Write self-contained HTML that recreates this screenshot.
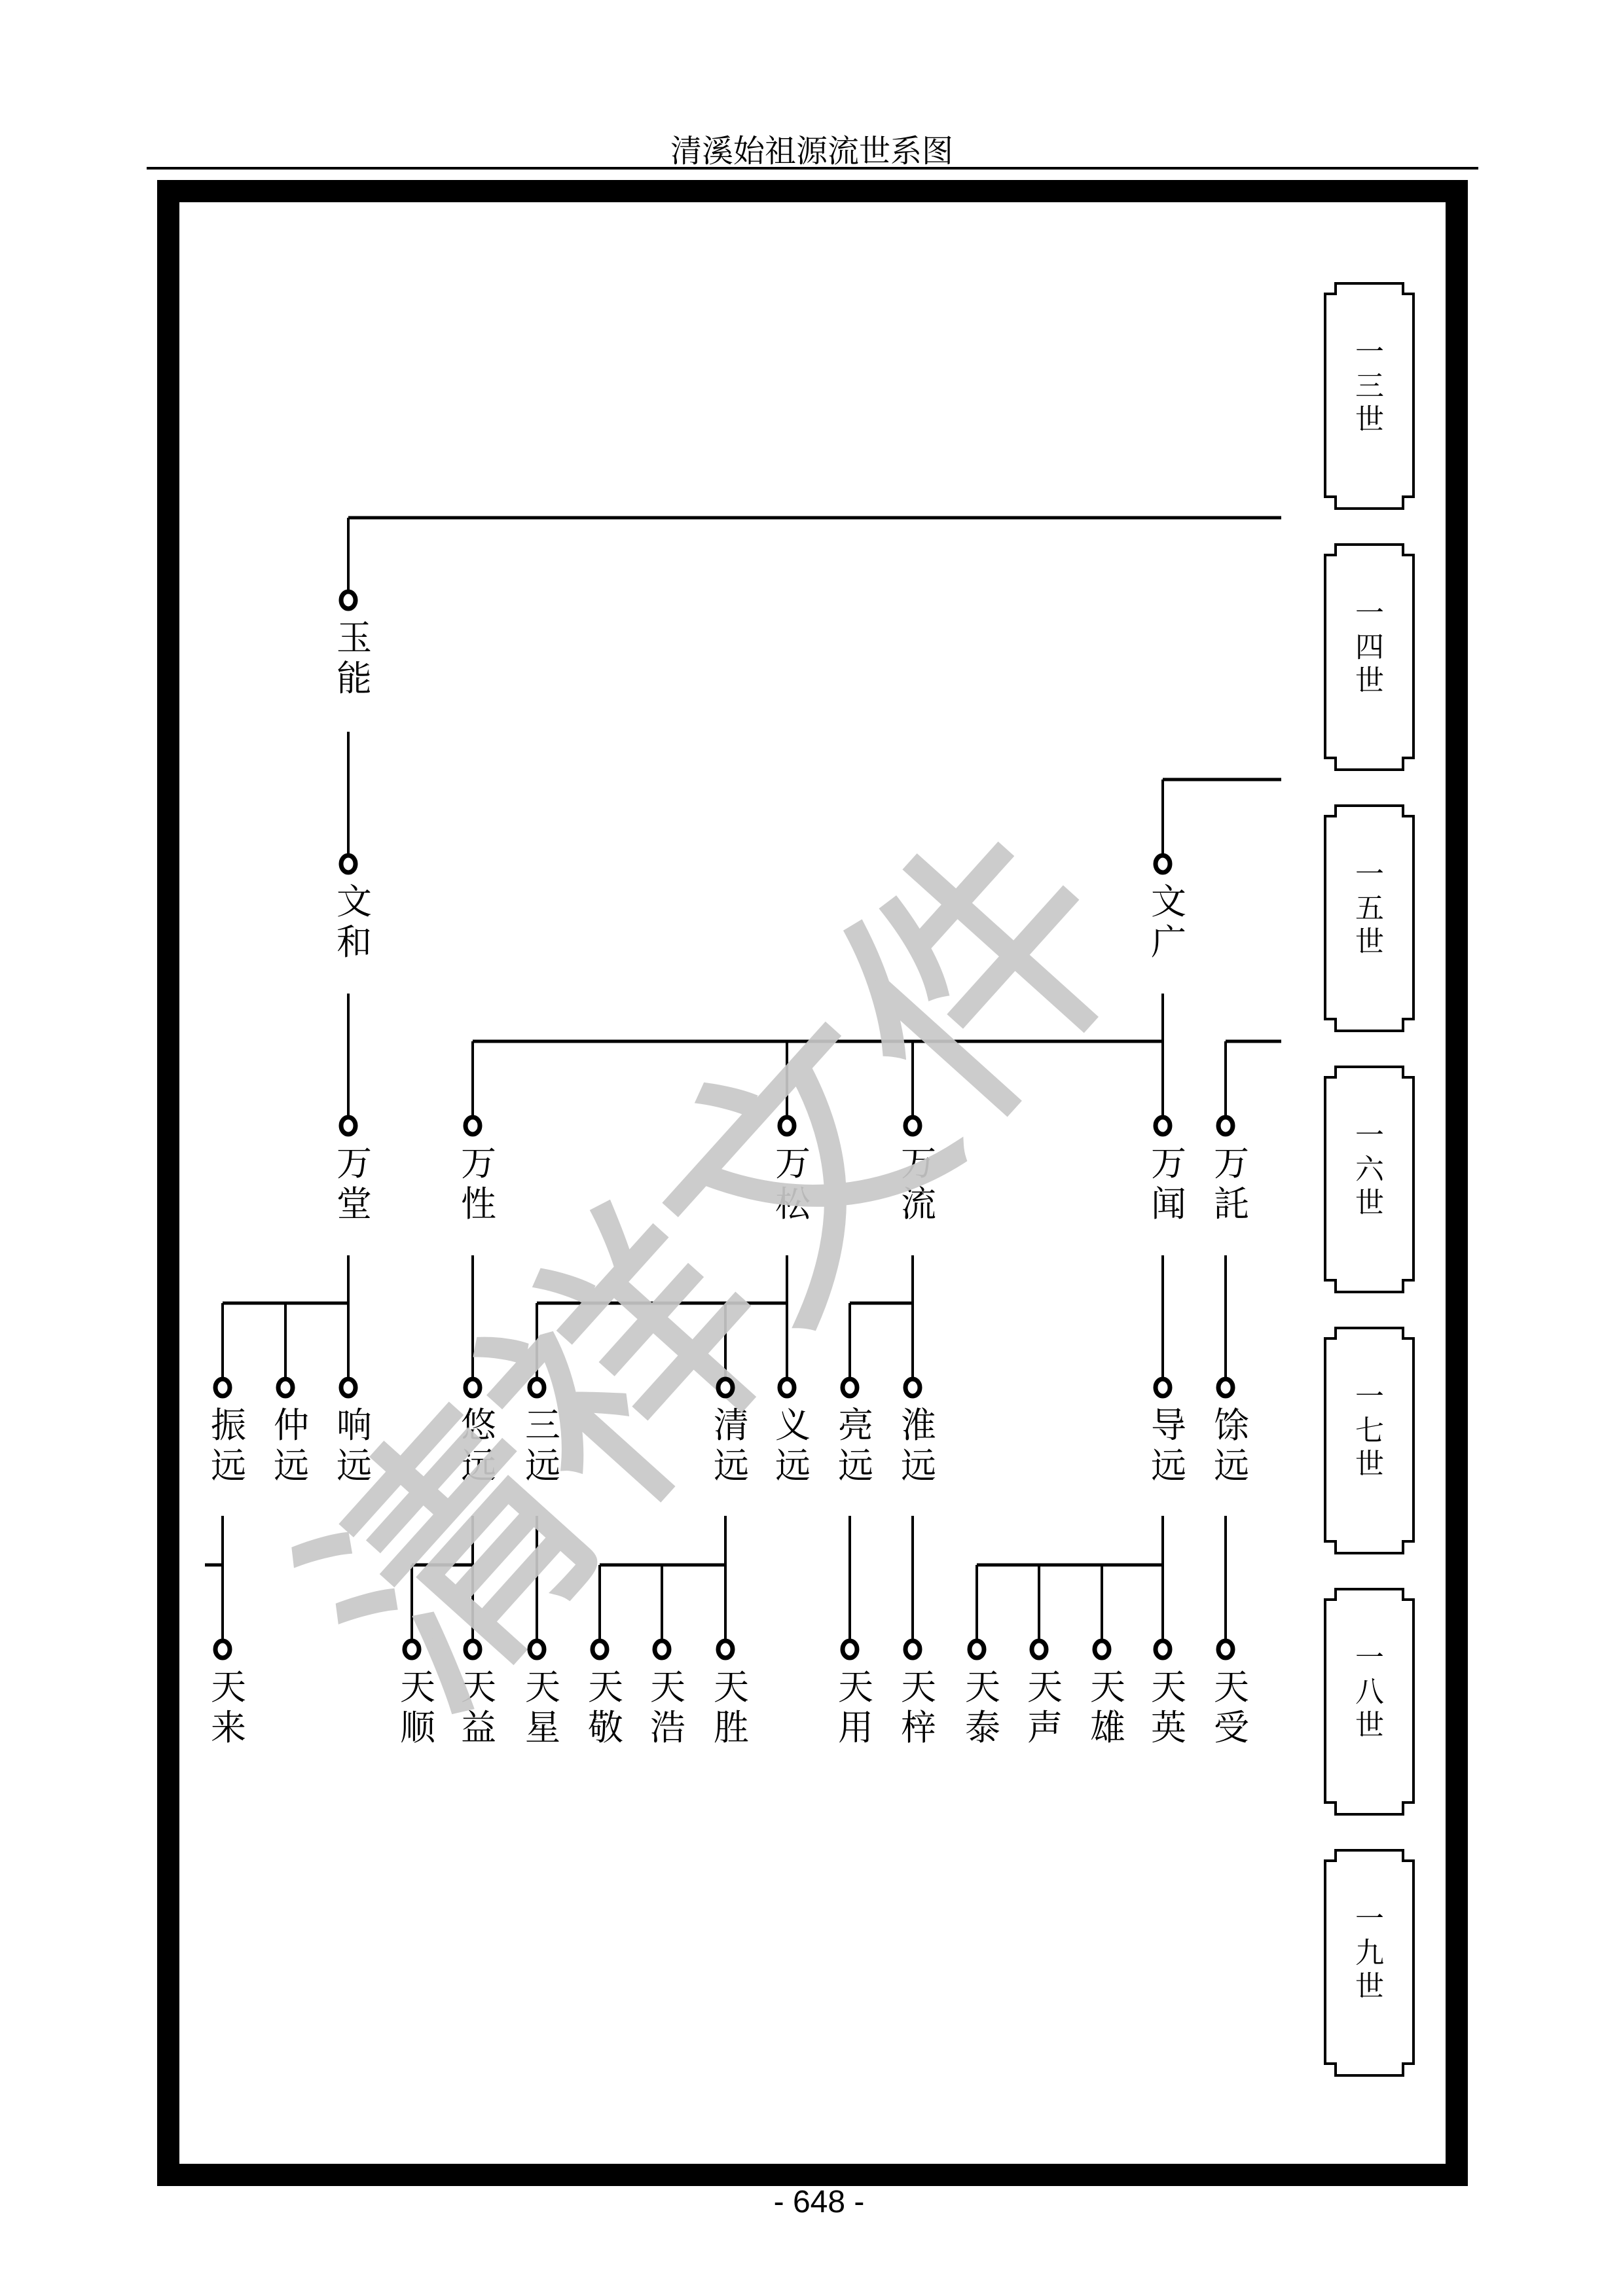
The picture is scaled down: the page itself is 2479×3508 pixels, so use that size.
<!DOCTYPE html>
<html><head><meta charset="utf-8"><style>
html,body{margin:0;padding:0;background:#fff;}
svg{display:block;}
text{font-family:"Liberation Serif","Noto Serif CJK SC",serif;}
</style></head><body>
<svg width="2479" height="3508" viewBox="0 0 2479 3508" xmlns="http://www.w3.org/2000/svg">
<rect width="2479" height="3508" fill="#fff"/>
<text x="1240" y="247" font-size="48" text-anchor="middle">清溪始祖源流世系图</text>
<rect x="224" y="255" width="2034" height="4" fill="#000"/>
<rect x="257" y="292" width="1968" height="3031" fill="none" stroke="#000" stroke-width="34"/>

<g fill="none" stroke="#000" stroke-width="4">
<path id="bx" d="M2040 433 H2143 V449 H2159 V759 H2143 V777 H2040 V759 H2024 V449 H2040 Z"/>
<use href="#bx" y="399"/><use href="#bx" y="798"/><use href="#bx" y="1197"/><use href="#bx" y="1596"/><use href="#bx" y="1995"/><use href="#bx" y="2394"/>
</g>
<g font-size="44" text-anchor="middle" dominant-baseline="central">
<text x="2092" y="538">一</text><text x="2092" y="590">三</text><text x="2092" y="641">世</text>
<text x="2092" y="937">一</text><text x="2092" y="989">四</text><text x="2092" y="1040">世</text>
<text x="2092" y="1336">一</text><text x="2092" y="1388">五</text><text x="2092" y="1439">世</text>
<text x="2092" y="1735">一</text><text x="2092" y="1787">六</text><text x="2092" y="1838">世</text>
<text x="2092" y="2134">一</text><text x="2092" y="2186">七</text><text x="2092" y="2237">世</text>
<text x="2092" y="2533">一</text><text x="2092" y="2585">八</text><text x="2092" y="2636">世</text>
<text x="2092" y="2932">一</text><text x="2092" y="2984">九</text><text x="2092" y="3035">世</text>
</g>

<g stroke="#000" stroke-width="4" fill="none">
<path d="M532 917 V791"/>
<path d="M532 1118 V1320 M1776 1191 V1320"/>
<path d="M532 1518 V1720 M1776 1518 V1720 M722 1591 V1720 M1202 1591 V1720 M1394 1591 V1720 M1872 1591 V1720"/>
<path d="M532 1918 V2120 M340 1991 V2120 M436 1991 V2120 M722 1918 V2120 M1202 1918 V2120 M820 1991 V2120 M1108 1991 V2120 M1394 1918 V2120 M1298 1991 V2120 M1776 1918 V2120 M1872 1918 V2120"/>
<path d="M340 2316 V2520 M722 2316 V2520 M629 2391 V2520 M820 2316 V2520 M1108 2316 V2520 M916 2391 V2520 M1011 2391 V2520 M1298 2316 V2520 M1394 2316 V2520 M1776 2316 V2520 M1492 2391 V2520 M1587 2391 V2520 M1683 2391 V2520 M1872 2316 V2520"/>
</g>
<g stroke="#000" stroke-width="5" fill="none">
<path d="M532 791 H1957"/>
<path d="M1776 1191 H1957"/>
<path d="M722 1591 H1776 M1872 1591 H1957"/>
<path d="M340 1991 H532 M820 1991 H1202 M1298 1991 H1394"/>
<path d="M313 2391 H340 M629 2391 H722 M916 2391 H1108 M1492 2391 H1776"/>
</g>

<g font-size="54" text-anchor="middle" dominant-baseline="central">
<text x="541" y="975">玉</text><text x="541" y="1037">能</text>
<text x="541" y="1378">文</text><text x="541" y="1440">和</text>
<text x="1785" y="1378">文</text><text x="1785" y="1440">广</text>
<text x="541" y="1778">万</text><text x="541" y="1840">堂</text>
<text x="731" y="1778">万</text><text x="731" y="1840">性</text>
<text x="1211" y="1778">万</text><text x="1211" y="1840">松</text>
<text x="1403" y="1778">万</text><text x="1403" y="1840">流</text>
<text x="1785" y="1778">万</text><text x="1785" y="1840">闻</text>
<text x="1881" y="1778">万</text><text x="1881" y="1840">託</text>
<text x="349" y="2178">振</text><text x="349" y="2240">远</text>
<text x="445" y="2178">仲</text><text x="445" y="2240">远</text>
<text x="541" y="2178">响</text><text x="541" y="2240">远</text>
<text x="731" y="2178">悠</text><text x="731" y="2240">远</text>
<text x="829" y="2178">三</text><text x="829" y="2240">远</text>
<text x="1117" y="2178">清</text><text x="1117" y="2240">远</text>
<text x="1211" y="2178">义</text><text x="1211" y="2240">远</text>
<text x="1307" y="2178">亮</text><text x="1307" y="2240">远</text>
<text x="1403" y="2178">淮</text><text x="1403" y="2240">远</text>
<text x="1785" y="2178">导</text><text x="1785" y="2240">远</text>
<text x="1881" y="2178">馀</text><text x="1881" y="2240">远</text>
<text x="349" y="2578">天</text><text x="349" y="2640">来</text>
<text x="638" y="2578">天</text><text x="638" y="2640">顺</text>
<text x="731" y="2578">天</text><text x="731" y="2640">益</text>
<text x="829" y="2578">天</text><text x="829" y="2640">星</text>
<text x="925" y="2578">天</text><text x="925" y="2640">敬</text>
<text x="1020" y="2578">天</text><text x="1020" y="2640">浩</text>
<text x="1117" y="2578">天</text><text x="1117" y="2640">胜</text>
<text x="1307" y="2578">天</text><text x="1307" y="2640">用</text>
<text x="1403" y="2578">天</text><text x="1403" y="2640">梓</text>
<text x="1501" y="2578">天</text><text x="1501" y="2640">泰</text>
<text x="1596" y="2578">天</text><text x="1596" y="2640">声</text>
<text x="1692" y="2578">天</text><text x="1692" y="2640">雄</text>
<text x="1785" y="2578">天</text><text x="1785" y="2640">英</text>
<text x="1881" y="2578">天</text><text x="1881" y="2640">受</text>
</g>

<text x="1072" y="1912" font-size="400" text-anchor="middle" dominant-baseline="central" fill="#c8c8c8" stroke="#c8c8c8" stroke-width="14" opacity="0.92" transform="rotate(-48 1072 1912)" style="font-family:'Noto Sans CJK SC',sans-serif;font-weight:300">清祥文件</text>

<g fill="#fff" stroke="#000" stroke-width="7">
<ellipse cx="532" cy="917" rx="11" ry="13"/>
<ellipse cx="532" cy="1320" rx="11" ry="13"/><ellipse cx="1776" cy="1320" rx="11" ry="13"/>
<ellipse cx="532" cy="1720" rx="11" ry="13"/><ellipse cx="722" cy="1720" rx="11" ry="13"/><ellipse cx="1202" cy="1720" rx="11" ry="13"/><ellipse cx="1394" cy="1720" rx="11" ry="13"/><ellipse cx="1776" cy="1720" rx="11" ry="13"/><ellipse cx="1872" cy="1720" rx="11" ry="13"/>
<ellipse cx="340" cy="2120" rx="11" ry="13"/><ellipse cx="436" cy="2120" rx="11" ry="13"/><ellipse cx="532" cy="2120" rx="11" ry="13"/><ellipse cx="722" cy="2120" rx="11" ry="13"/><ellipse cx="820" cy="2120" rx="11" ry="13"/><ellipse cx="1108" cy="2120" rx="11" ry="13"/><ellipse cx="1202" cy="2120" rx="11" ry="13"/><ellipse cx="1298" cy="2120" rx="11" ry="13"/><ellipse cx="1394" cy="2120" rx="11" ry="13"/><ellipse cx="1776" cy="2120" rx="11" ry="13"/><ellipse cx="1872" cy="2120" rx="11" ry="13"/>
<ellipse cx="340" cy="2520" rx="11" ry="13"/><ellipse cx="629" cy="2520" rx="11" ry="13"/><ellipse cx="722" cy="2520" rx="11" ry="13"/><ellipse cx="820" cy="2520" rx="11" ry="13"/><ellipse cx="916" cy="2520" rx="11" ry="13"/><ellipse cx="1011" cy="2520" rx="11" ry="13"/><ellipse cx="1108" cy="2520" rx="11" ry="13"/><ellipse cx="1298" cy="2520" rx="11" ry="13"/><ellipse cx="1394" cy="2520" rx="11" ry="13"/><ellipse cx="1492" cy="2520" rx="11" ry="13"/><ellipse cx="1587" cy="2520" rx="11" ry="13"/><ellipse cx="1683" cy="2520" rx="11" ry="13"/><ellipse cx="1776" cy="2520" rx="11" ry="13"/><ellipse cx="1872" cy="2520" rx="11" ry="13"/>
</g>

<text x="1251" y="3380" font-size="48" text-anchor="middle" style="font-family:'Liberation Sans',sans-serif">- 648 -</text>
</svg>
</body></html>
